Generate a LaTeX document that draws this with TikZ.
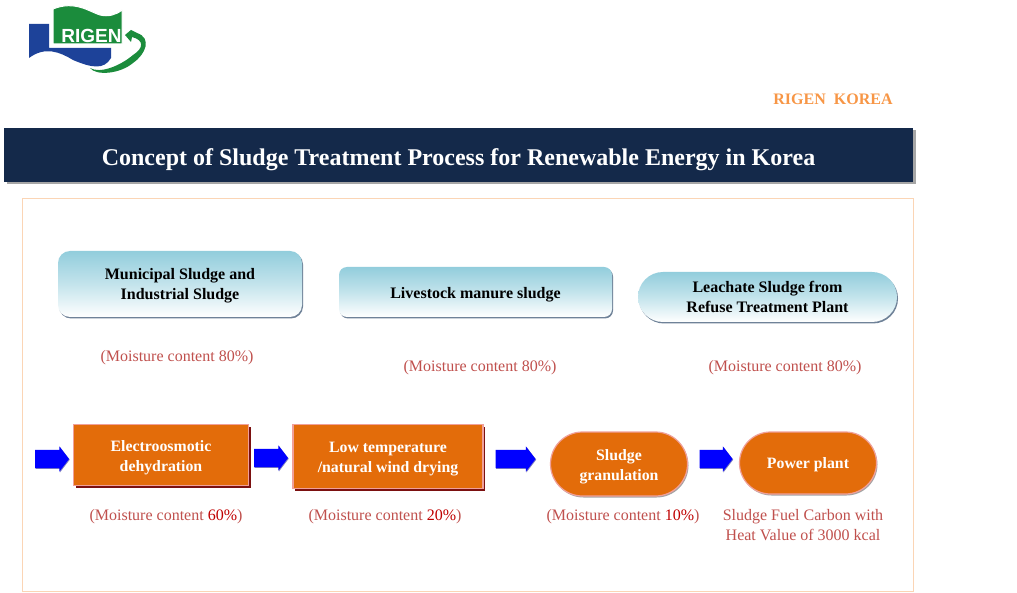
\documentclass[tikz,border=0pt]{standalone}
\usepackage{fontspec}
\setmainfont{Liberation Serif}
\newfontfamily\logofont{Liberation Sans}
\usetikzlibrary{arrows.meta, shadows, shapes.arrows, shapes.misc}
\definecolor{barblue}{HTML}{14294A}
\definecolor{panelline}{HTML}{FBD5B5}
\definecolor{boxorange}{HTML}{E36C0A}
\definecolor{boxrim}{HTML}{F0A09A}
\definecolor{boxshadow}{HTML}{7B1010}
\definecolor{skyblue}{HTML}{92CDDC}
\definecolor{slate}{HTML}{6F8298}
\definecolor{notered}{HTML}{C0504D}
\definecolor{darkred}{HTML}{C00000}
\definecolor{brandorange}{HTML}{F79646}
\definecolor{logogreen}{HTML}{1B8C3C}
\definecolor{logoblue}{HTML}{1D4299}
% pushes a label down inside its box
\newcommand{\lift}[1]{\rule{0pt}{#1pt}}
\tikzset{
    source/.style={top color=skyblue, bottom color=white, middle color=skyblue!55,
        inner sep=0pt, align=center, font=\fontsize{16}{20}\selectfont\bfseries,
        drop shadow={shadow xshift=1pt, shadow yshift=-1.5pt, fill=slate, opacity=1}},
    stage/.style={fill=boxorange, draw=boxrim, line width=1.2pt, inner sep=0pt, align=center,
        text=white, font=\fontsize{15.8}{20}\selectfont\bfseries},
    squarestage/.style={stage, drop shadow={shadow xshift=2pt, shadow yshift=-2pt, fill=boxshadow, opacity=1}},
    pillstage/.style={stage, rounded rectangle,
        drop shadow={shadow xshift=1pt, shadow yshift=-1.5pt, fill=black!60, opacity=0.6}},
    note/.style={text=notered, align=center, font=\fontsize{16}{20}\selectfont},
    flow/.style={single arrow, fill=blue, inner xsep=0pt, inner ysep=9pt, single arrow head extend=3.5pt,
        single arrow tip angle=105, shape border rotate=0,
        drop shadow={shadow xshift=0.7pt, shadow yshift=-0.7pt, fill=blue!50!black, opacity=0.5}}
}
\begin{document}
\begin{tikzpicture}[x=1pt, y=-1pt]
    \useasboundingbox (0,0) rectangle (1017,593);
    % Logo
    \fill[logoblue] (29,24) -- (49,24) -- (49,48) -- (111,48) -- (111,58)
        .. controls (104,70) and (92,68) .. (73,60) .. controls (60,52) and (45,46) .. (29,58) -- cycle;
    \fill[logogreen, draw=white, line width=1pt] (53,9) .. controls (75,0) and (90,12) .. (100,15)
        .. controls (108,17) and (116,15) .. (122,10) -- (122,44) -- (53,44) -- cycle;
    \node[font=\logofont\fontsize{19}{19}\selectfont\bfseries, text=white, inner sep=0pt] (logotext) at (91.5,36) {RIGEN};
    \fill[logogreen] (90,68) .. controls (96,76) and (120,74) .. (133,63)
        .. controls (146,54) and (152,38) .. (137,33) -- (131,30) -- (125,35) -- (131,42) -- (132,37)
        .. controls (144,40) and (144,48) .. (133,55) .. controls (120,66) and (100,74) .. (90,68) -- cycle;
    \node[font=\fontsize{16}{18}\selectfont\bfseries, text=brandorange] (brand) at (833,99) {RIGEN\ \ KOREA};
    % Title bar
    \node[fill=barblue, minimum width=909pt, minimum height=54pt, inner sep=0pt, text=white,
        font=\fontsize{24}{28}\selectfont\bfseries,
        drop shadow={shadow xshift=2.5pt, shadow yshift=-2.5pt, fill=black, opacity=0.35}]
        (title) at (458.5,155) {\lift{26}Concept of Sludge Treatment Process for Renewable Energy in Korea};
    % Panel
    \node[draw=panelline, fill=white, minimum width=891pt, minimum height=393pt, inner sep=0pt] (panel) at (467.5,394.5) {};
    % Sources
    \node[source, rounded corners=12pt, minimum width=244pt, minimum height=66pt] (municipal) at (180,284) {\lift{15}Municipal Sludge and\\Industrial Sludge};
    \node[source, rounded corners=8pt, minimum width=273pt, minimum height=50pt] (livestock) at (475.5,292) {\lift{17}Livestock manure sludge};
    \node[source, rounded rectangle, minimum width=259pt, minimum height=50pt] (leachate) at (767.5,297) {Leachate Sludge from\\Refuse Treatment Plant};
    \node[note] (municipalnote) at (177,358) {(Moisture content 80\%)};
    \node[note] (livestocknote) at (480,368) {(Moisture content 80\%)};
    \node[note] (leachatenote) at (785,368) {(Moisture content 80\%)};
    % Process stages
    \node[squarestage, minimum width=175pt, minimum height=61pt] (dehydration) at (161,455) {\lift{17}Electroosmotic\\dehydration};
    \node[squarestage, minimum width=190pt, minimum height=64pt] (drying) at (388,456.5) {\lift{15}Low temperature\\/natural wind drying};
    \node[pillstage, minimum width=137pt, minimum height=64pt] (granulation) at (619,464) {\lift{17}Sludge\\granulation};
    \node[pillstage, minimum width=137pt, minimum height=62pt] (plant) at (808,463) {\lift{15}Power plant};
    % Block arrows
    \node[flow, minimum height=34pt] (arrowa) at (48.5,459) {};
    \node[flow, minimum height=34pt] (arrowb) at (267.5,458) {};
    \node[flow, minimum height=40pt] (arrowc) at (512,459) {};
    \node[flow, minimum height=33pt] (arrowd) at (712.5,459) {};
    % Stage notes
    \node[note] (dehydrationnote) at (166,517) {(Moisture content {\color{darkred}60\%})};
    \node[note] (dryingnote) at (385,517) {(Moisture content {\color{darkred}20\%})};
    \node[note] (granulationnote) at (623,517) {(Moisture content {\color{darkred}10\%})};
    \node[note] (plantnote) at (803,525.5) {Sludge Fuel Carbon with\\Heat Value of 3000 kcal};
\end{tikzpicture}
\end{document}
